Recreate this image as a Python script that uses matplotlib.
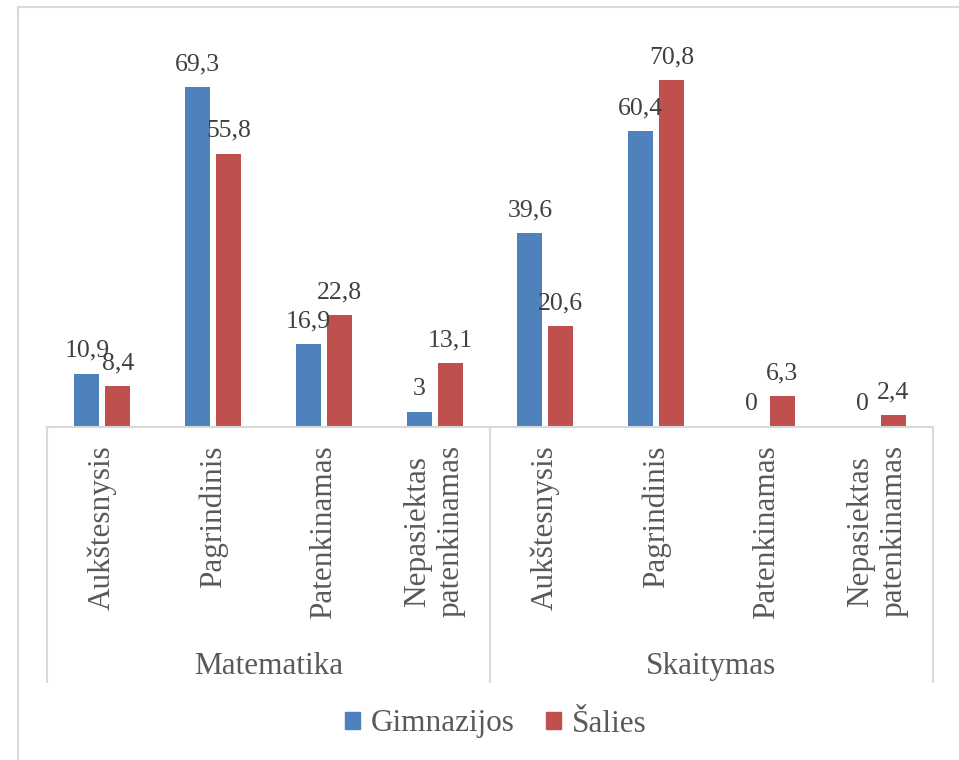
import matplotlib
matplotlib.use('Agg')
import matplotlib.pyplot as plt
from matplotlib.lines import Line2D
from matplotlib.patches import Patch
import numpy as np

groups = ['Matematika', 'Skaitymas']
levels = ['Aukštesnysis', 'Pagrindinis', 'Patenkinamas', 'Nepasiektas\npatenkinamas']
series_names = ['Gimnazijos', 'Šalies']
gimnazijos = [10.9, 69.3, 16.9, 3, 39.6, 60.4, 0, 0]
salies = [8.4, 55.8, 22.8, 13.1, 20.6, 70.8, 6.3, 2.4]

BLUE = '#4F81BD'
RED = '#C0504D'
GRID = '#D9D9D9'

plt.rcParams['font.family'] = ['Liberation Serif', 'DejaVu Serif']

W, H = 959, 760
fig = plt.figure(figsize=(W / 100, H / 100), dpi=100)

# plot area in pixel terms: x 47..933, baseline at y=427, 80 units -> 392 px
ax = fig.add_axes([47 / W, (H - 427) / H, 886 / W, 392 / H])

x = np.arange(len(gimnazijos))
bw = 0.226
off = 0.14
b1 = ax.bar(x - off, gimnazijos, bw, color=BLUE)
b2 = ax.bar(x + off, salies, bw, color=RED)


def fmt(v):
    if float(v).is_integer():
        return str(int(v))
    return f'{v:.1f}'.replace('.', ',')


for bars, vals in ((b1, gimnazijos), (b2, salies)):
    for rect, v in zip(bars, vals):
        ax.annotate(fmt(v), (rect.get_x() + rect.get_width() / 2, rect.get_height()),
                    xytext=(0, 8.5), textcoords='offset points',
                    ha='center', va='bottom', fontsize=18.5, color='#404040')

ax.set_xlim(-0.5, len(x) - 0.5)
ax.set_ylim(0, 80)
ax.yaxis.set_visible(False)
for s in ('left', 'right', 'top'):
    ax.spines[s].set_visible(False)
ax.spines['bottom'].set_color(GRID)
ax.spines['bottom'].set_linewidth(1.5)

ax.set_xticks(x)
ax.set_xticklabels(levels * len(groups), rotation=90, fontsize=22.5,
                   color='#595959', multialignment='center')
ax.tick_params(axis='x', length=0, pad=13)

# multi-level separators and group names
trans = ax.get_xaxis_transform()
for xs in (-0.5, 3.5, 7.5):
    ax.plot([xs, xs], [0, -0.65], transform=trans, color=GRID, lw=1.5, clip_on=False)
for i, g in enumerate(groups):
    ax.text(1.5 + 4 * i, -0.61, g, transform=trans, ha='center', va='center',
            fontsize=22.5, color='#595959')

handles = [Patch(color=BLUE), Patch(color=RED)]
fig.legend(handles, series_names, loc='center', bbox_to_anchor=(496 / W, 36 / H),
           ncol=2, frameon=False, fontsize=22.5, labelcolor='#595959',
           handlelength=0.47, handleheight=0.47, handletextpad=0.35,
           columnspacing=1.0)

# chart border (runs off the right and bottom edges)
fig.add_artist(Line2D([17.5 / W, 17.5 / W], [0, (H - 6.5) / H], color=GRID, lw=1.5))
fig.add_artist(Line2D([17.5 / W, 1], [(H - 6.5) / H, (H - 6.5) / H], color=GRID, lw=1.5))

fig.savefig('out.png', dpi=100)
